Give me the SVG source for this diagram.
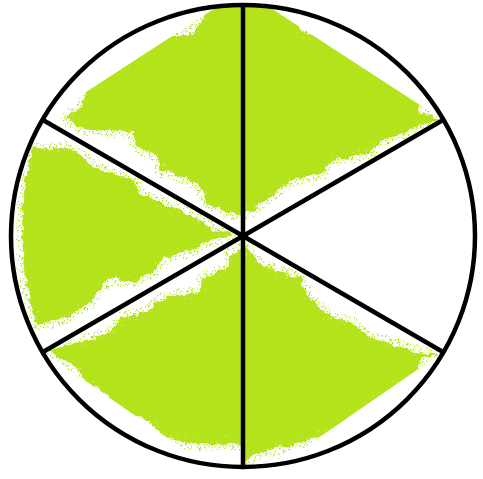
<svg xmlns="http://www.w3.org/2000/svg" width="483" height="479" viewBox="0 0 483 479">
<style>
.g{fill:#b4e31c;stroke:url(#spk);stroke-width:12;stroke-linejoin:round}
.ln{stroke:#000;stroke-width:4.5;fill:none;stroke-linecap:round}
</style>
<defs>
<pattern id="spk" width="7" height="7" patternUnits="userSpaceOnUse">
<rect x="0" y="0" width="1.4" height="1.4" fill="#b4e31c"/>
<rect x="3" y="1" width="1.4" height="1.4" fill="#b4e31c"/>
<rect x="5" y="4" width="1.4" height="1.4" fill="#b4e31c"/>
<rect x="1" y="5" width="1.4" height="1.4" fill="#b4e31c"/>
<rect x="2" y="3" width="1.2" height="1.2" fill="#cbe97a"/>
</pattern>
<filter id="rough" x="-10%" y="-10%" width="120%" height="120%">
<feTurbulence type="fractalNoise" baseFrequency="0.12" numOctaves="3" seed="7" result="n"/>
<feDisplacementMap in="SourceGraphic" in2="n" scale="7" xChannelSelector="R" yChannelSelector="G"/>
</filter>
<clipPath id="circ"><circle cx="243" cy="236" r="231"/></clipPath>
<clipPath id="sTL"><path d="M243,236 L43,120 L243,-10 Z"/></clipPath>
<clipPath id="sTR"><path d="M243,236 L243,-10 L443,120 Z"/></clipPath>
<clipPath id="sL"><path d="M243,236 L43,120 L0,120 L0,352 L43,352 Z"/></clipPath>
<clipPath id="sBL"><path d="M243,236 L43,352 L243,490 Z"/></clipPath>
<clipPath id="sBR"><path d="M243,236 L243,490 L443,352 Z"/></clipPath>
</defs>
<rect width="483" height="479" fill="#fff"/>
<g id="fills" clip-path="url(#circ)">
<g id="sector-top-left" clip-path="url(#sTL)"><path class="g" filter="url(#rough)" d="M248,0 L210,4 L203,20 L190,35 L170,35 L135,38 L128,60 L105,72 L95,85 L85,90 L82,108 L65,118 L80,128 L105,130 L133,132 L137,147 L157,155 L160,170 L187,178 L200,187 L207,203 L227,212 L248,217 Z"/></g>
<g id="sector-top-right" clip-path="url(#sTR)"><path class="g" filter="url(#rough)" d="M238,0 L297,6 L300,33 L347,37 L350,60 L393,63 L397,87 L417,93 L420,113 L440,118 L427,123 L403,133 L380,140 L370,153 L350,157 L330,160 L323,173 L293,180 L280,190 L267,200 L253,210 L238,214 Z"/></g>
<g id="sector-left" clip-path="url(#sL)"><path class="g" filter="url(#rough)" d="M33,147 L47,150 L67,147 L83,157 L93,167 L110,173 L133,180 L140,193 L160,203 L180,210 L200,220 L213,230 L233,233 L227,236 L207,242 L187,252 L163,258 L153,272 L133,282 L110,278 L90,302 L67,318 L37,325 L30,300 L24,270 L22,230 L25,180 Z"/></g>
<g id="sector-bottom-left" clip-path="url(#sBL)"><path class="g" filter="url(#rough)" d="M248,244 L230,255 L227,268 L203,278 L200,292 L177,295 L157,302 L147,312 L123,318 L110,332 L83,342 L50,350 L53,354 L77,368 L87,382 L107,395 L110,415 L123,418 L143,417 L157,428 L163,438 L187,442 L207,445 L230,442 L248,448 Z"/></g>
<g id="sector-bottom-right" clip-path="url(#sBR)"><path class="g" filter="url(#rough)" d="M238,240 L247,248 L260,265 L280,272 L300,278 L307,295 L327,315 L350,322 L370,338 L397,345 L420,352 L440,355 L420,357 L417,375 L400,382 L387,398 L373,402 L360,418 L350,428 L323,435 L300,442 L277,448 L253,455 L238,470 Z"/></g>
</g>
<g id="connectors">
<line class="ln" x1="243" y1="6" x2="243" y2="467"/>
<line class="ln" x1="43" y1="120" x2="443" y2="352"/>
<line class="ln" x1="43" y1="352" x2="443" y2="120"/>
</g>
<g id="outline"><ellipse class="ln" cx="243" cy="236" rx="232" ry="231"/></g>
</svg>
